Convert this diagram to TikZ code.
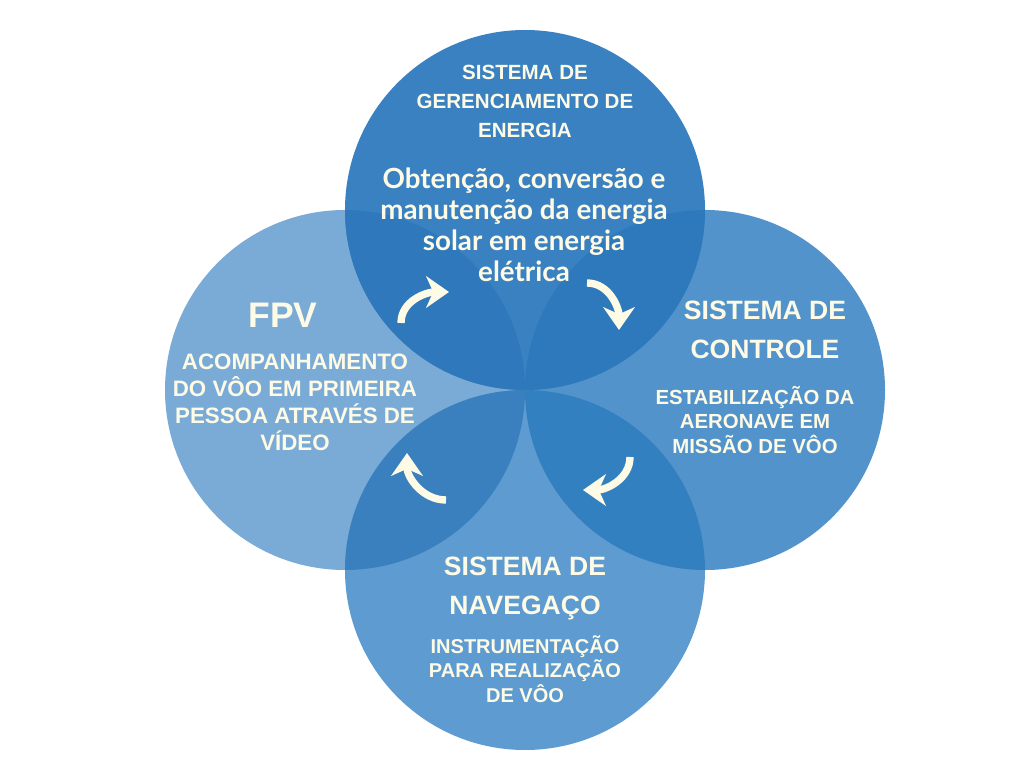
\documentclass[tikz,border=0pt]{standalone}
\usepackage{fontspec}
\setmainfont{Liberation Sans}
\newfontfamily\obtfont{Lato}
\usetikzlibrary{arrows.meta}
\definecolor{cTop}{HTML}{3A81C1}
\definecolor{cLeft}{HTML}{7AAAD6}
\definecolor{cRight}{HTML}{5393CB}
\definecolor{cBot}{HTML}{5E9BD0}
\definecolor{cTL}{HTML}{2E78BB}
\definecolor{cTR}{HTML}{2E79BC}
\definecolor{cBL}{HTML}{3A80BF}
\definecolor{cBR}{HTML}{3380C0}
\definecolor{cream}{HTML}{FDFAE6}
\tikzset{
  txt/.style={text=cream, align=center, inner sep=0pt, font=\bfseries},
  cyc/.style={draw=cream, line width=4.2pt, -{Stealth[length=13pt,width=18pt,inset=4pt]}},
}
\begin{document}
\begin{tikzpicture}[x=0.02cm,y=0.02cm]
\useasboundingbox (0,0) rectangle (1024,768);
\fill[white] (0,0) rectangle (1024,768);
% circles
\coordinate (T) at (525,558);
\coordinate (L) at (345,378);
\coordinate (R) at (705,378);
\coordinate (B) at (525,198);
\fill[cLeft] (L) circle (180);
\fill[cRight] (R) circle (180);
\fill[cBot] (B) circle (180);
\fill[cTop] (T) circle (180);
\begin{scope}\clip (T) circle (180); \fill[cTL] (L) circle (180); \end{scope}
\begin{scope}\clip (T) circle (180); \fill[cTR] (R) circle (180); \end{scope}
\begin{scope}\clip (B) circle (180); \fill[cBL] (L) circle (180); \end{scope}
\begin{scope}\clip (B) circle (180); \fill[cBR] (R) circle (180); \end{scope}
% texts
\node[txt, font=\bfseries\fontsize{11.7}{16.5}\selectfont] (t1) at (525,667)
  {SISTEMA DE\\GERENCIAMENTO DE\\ENERGIA};
\node[txt, font=\obtfont\bfseries\fontsize{15.8}{17.6}\selectfont] (t2) at (524,543)
  {Obtenção, conversão e\\manutenção da energia\\solar em energia\\elétrica};
\node[txt, font=\bfseries\fontsize{20.2}{24}\selectfont] (f1) at (283,453) {FPV};
\node[txt, font=\bfseries\fontsize{12.7}{15.4}\selectfont] (f2) at (295,366)
  {ACOMPANHAMENTO\\DO VÔO EM PRIMEIRA\\PESSOA ATRAVÉS DE\\VÍDEO};
\node[txt, font=\bfseries\fontsize{15.1}{22.2}\selectfont] (r1) at (765,438)
  {SISTEMA DE\\CONTROLE};
\node[txt, font=\bfseries\fontsize{11.6}{14}\selectfont] (r2) at (755,348)
  {ESTABILIZAÇÃO DA\\AERONAVE EM\\MISSÃO DE VÔO};
\node[txt, font=\bfseries\fontsize{15.1}{22.2}\selectfont] (b1) at (525,180)
  {SISTEMA DE\\NAVEGAÇO};
\node[txt, font=\bfseries\fontsize{11.4}{14}\selectfont] (b2) at (525,99)
  {INSTRUMENTAÇÃO\\PARA REALIZAÇÃO\\DE VÔO};
% cycle arrows
\coordinate (a1s) at (401,445); \coordinate (a1e) at (449,476);
\coordinate (a2s) at (587,485); \coordinate (a2e) at (619,438);
\coordinate (a3s) at (630,311); \coordinate (a3e) at (583,278);
\coordinate (a4s) at (446,268); \coordinate (a4e) at (407,315);
\draw[cyc] (a1s) to[out=90,in=180] (a1e);
\draw[cyc] (a2s) to[out=0,in=90] (a2e);
\draw[cyc] (a3s) to[out=-90,in=0] (a3e);
\draw[cyc] (a4s) to[out=180,in=-90] (a4e);
\end{tikzpicture}
\end{document}
